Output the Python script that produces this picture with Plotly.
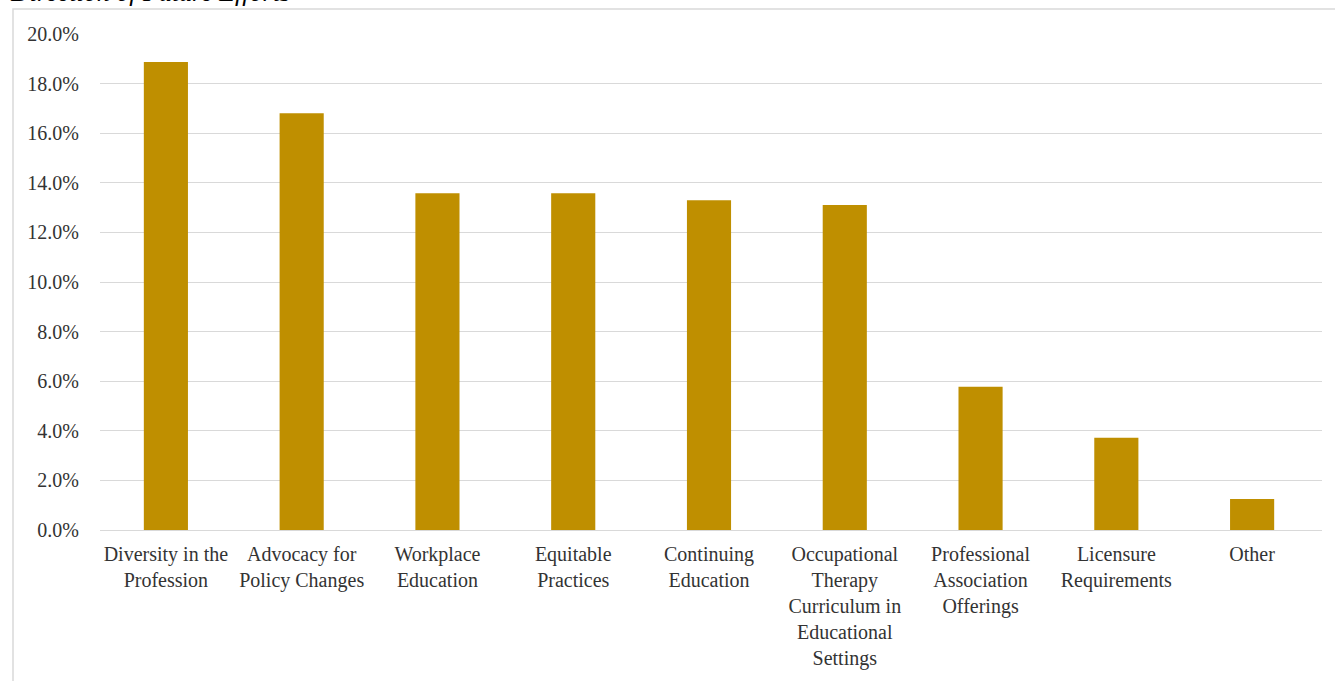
import plotly.graph_objects as go

categories = [
    "Diversity in the<br>Profession",
    "Advocacy for<br>Policy Changes",
    "Workplace<br>Education",
    "Equitable<br>Practices",
    "Continuing<br>Education",
    "Occupational<br>Therapy<br>Curriculum in<br>Educational<br>Settings",
    "Professional<br>Association<br>Offerings",
    "Licensure<br>Requirements",
    "Other",
]
values = [0.1887, 0.168, 0.1358, 0.1358, 0.133, 0.131, 0.0578, 0.0372, 0.0125]
tick_vals = [0, 0.02, 0.04, 0.06, 0.08, 0.10, 0.12, 0.14, 0.16, 0.18, 0.20]
title_text = "Direction of Future Efforts"

W, H = 1335, 681
ml, mr, mt, mb = 100, 13, 34, 151
pw, ph = W - ml - mr, H - mt - mb

fig = go.Figure(go.Bar(x=categories, y=values, marker_color="#BF8F00",
                       marker_line_width=0))

shift = 2.0 / (pw / len(categories))

fig.update_layout(
    width=W, height=H,
    margin=dict(l=ml, r=mr, t=mt, b=mb),
    plot_bgcolor="white", paper_bgcolor="white",
    bargap=0.675,
    font=dict(family="Liberation Serif", size=20, color="#333333"),
    showlegend=False,
    xaxis=dict(showline=False, showgrid=False, ticks="", tickangle=0,
               range=[-0.5 + shift, len(categories) - 0.5 + shift],
               ticklabelstandoff=10, tickfont=dict(size=20)),
    yaxis=dict(range=[0, 0.2], tickvals=tick_vals, tickformat=".1%",
               showgrid=True, gridcolor="#d9d9d9", gridwidth=1,
               zeroline=True, zerolinecolor="#d9d9d9", zerolinewidth=1,
               showline=False, ticks="", ticklabelstandoff=20,
               tickfont=dict(size=20)),
    shapes=[dict(type="rect", xref="paper", yref="paper",
                 x0=(13 - ml) / pw, x1=(W + 10 - ml) / pw,
                 y0=-(mb + 10) / ph, y1=1 + (mt - 9) / ph,
                 line=dict(color="#d9d9d9", width=1.5), layer="below")],
    annotations=[dict(text="<i>" + title_text + "</i>", xref="paper", yref="paper",
                      x=(8 - ml) / pw, y=1 + (mt - 9) / ph, xanchor="left",
                      yanchor="bottom", showarrow=False,
                      font=dict(family="Liberation Serif", size=26, color="#000000"))],
)

fig.write_html("out.html", config={"displayModeBar": False},
               post_script="document.body.style.margin='0';")
